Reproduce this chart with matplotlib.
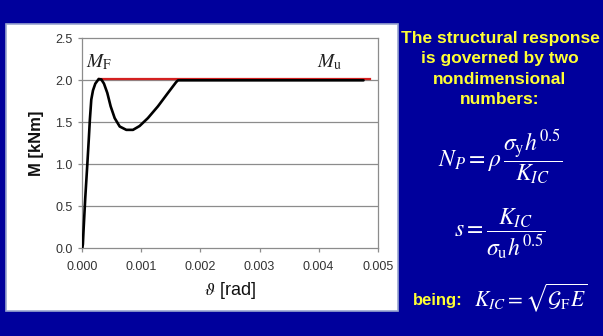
import matplotlib
matplotlib.use("Agg")
import matplotlib.pyplot as plt
from matplotlib.patches import Rectangle

plt.rcParams['mathtext.fontset'] = 'stix'

# data
theta = [0.0, 0.00001, 0.00002, 0.00005, 0.000085, 0.00011, 0.000128, 0.000152,
         0.000181, 0.00022, 0.000277, 0.000322, 0.000367, 0.000423, 0.00048,
         0.000548, 0.000633, 0.000745, 0.000858, 0.00097, 0.00111, 0.00128,
         0.00145, 0.00159, 0.00162, 0.0030, 0.00476]
moment = [0.0, 0.05, 0.2, 0.6, 1.0, 1.3, 1.53, 1.77,
          1.88, 1.96, 2.015, 2.01, 1.96, 1.85, 1.69,
          1.55, 1.45, 1.41, 1.41, 1.456, 1.55, 1.69,
          1.85, 1.98, 2.0, 2.0, 2.0]
mu_theta = [0.000288, 0.00487]
mu_moment = [2.015, 2.015]
xticks = [0.000, 0.001, 0.002, 0.003, 0.004, 0.005]
yticks = [0.0, 0.5, 1.0, 1.5, 2.0, 2.5]

W, H = 603, 336
fig = plt.figure(figsize=(W/100, H/100), dpi=100)
fig.patch.set_facecolor('#00009C')

# white panel
panel = Rectangle((6/W, 1-311/H), (398-6)/W, (311-23.5)/H, transform=fig.transFigure,
                  facecolor='white', edgecolor='#9AA6D0', linewidth=1.2, zorder=-5)
fig.patches.append(panel)

ax = fig.add_axes([82.3/W, 1-248.3/H, (377.7-82.3)/W, (248.3-38.3)/H])
ax.set_zorder(2)
ax.set_facecolor('white')
ax.plot(mu_theta, mu_moment, color='#D42020', lw=1.6, zorder=3)
ax.plot(theta, moment, color='black', lw=1.9, zorder=4,
        solid_joinstyle='round', solid_capstyle='round')
ax.set_xlim(0, 0.005)
ax.set_ylim(0, 2.5)
ax.set_xticks(xticks)
ax.set_yticks(yticks)
ax.set_xticklabels([f'{v:.3f}' for v in xticks])
ax.set_yticklabels([f'{v:.1f}' for v in yticks])
for y in yticks[1:-1]:
    ax.axhline(y, color='#8C8C8C', lw=0.9, zorder=1)
for s in ax.spines.values():
    s.set_color('#8C8C8C')
    s.set_linewidth(0.9)
ax.tick_params(axis='both', colors='#8C8C8C', length=3, width=0.9,
               labelcolor='#333333', labelsize=9)
for lab in ax.get_xticklabels() + ax.get_yticklabels():
    lab.set_fontfamily('Liberation Sans')
ax.tick_params(axis='x', pad=6)
ax.tick_params(axis='y', pad=4)
ax.set_ylabel('M [kNm]', fontfamily='Liberation Sans', fontweight='bold',
              fontsize=12, color='#111111', labelpad=8)
ax.set_xlabel(r'$\vartheta$ [rad]', fontfamily='Liberation Sans',
              fontsize=13, color='#111111', labelpad=5)
ax.text(0.000288, 2.1, r'$M_{\mathrm{F}}$', fontsize=14, ha='center', va='bottom', color='#222222')
ax.text(0.00419, 2.1, r'$M_{\mathrm{u}}$', fontsize=14, ha='center', va='bottom', color='#222222')

# right side text
yellow = '#FFFF33'
lines = ['The structural response', 'is governed by two', 'nondimensional', 'numbers:']
for i, t in enumerate(lines):
    fig.text(500/W, 1-(38+20.5*i)/H, t, ha='center', va='center', color=yellow,
             fontfamily='Liberation Sans', fontweight='bold', fontsize=12.5)

fig.text(500/W, 1-157/H,
         r'$N_P=\rho\,\dfrac{\sigma_{\mathrm{y}}h^{0.5}}{K_{IC}}$',
         ha='center', va='center', color='white', fontsize=17)
fig.text(500/W, 1-234/H,
         r'$s=\dfrac{K_{IC}}{\sigma_{\mathrm{u}}h^{0.5}}$',
         ha='center', va='center', color='white', fontsize=17)
fig.text(438/W, 1-301/H, 'being:', ha='center', va='center', color=yellow,
         fontfamily='Liberation Sans', fontweight='bold', fontsize=12)
fig.text(531/W, 1-298/H, r'$K_{IC}=\sqrt{\mathcal{G}_{\mathrm{F}}E}$',
         ha='center', va='center', color='white', fontsize=15.5)

fig.savefig('out.png', dpi=100, facecolor=fig.get_facecolor())
